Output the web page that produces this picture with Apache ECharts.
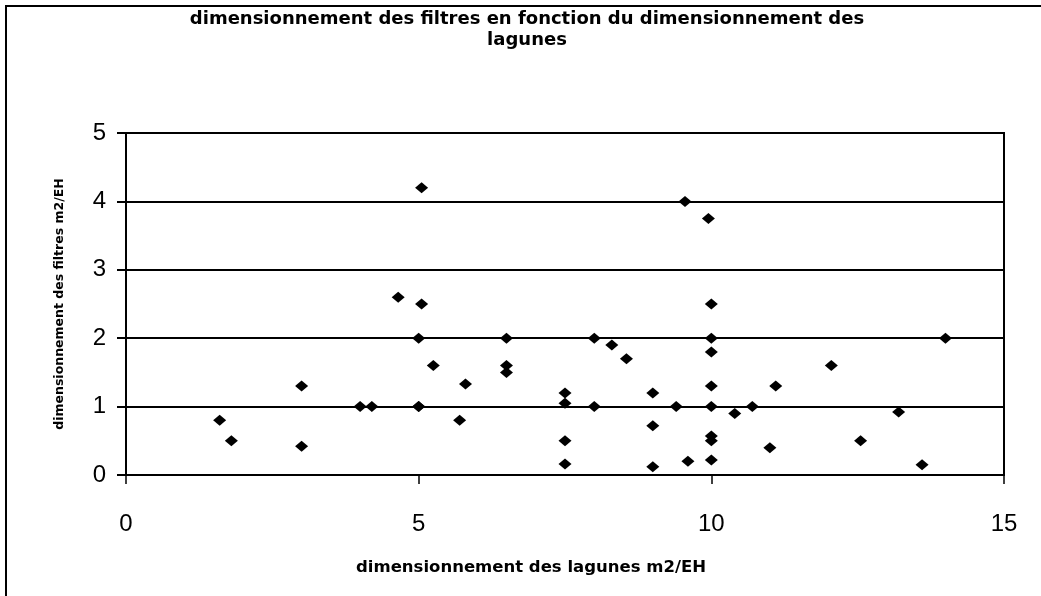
<!DOCTYPE html>
<html><head><meta charset="utf-8">
<script src="https://cdn.jsdelivr.net/npm/echarts@6/dist/echarts.min.js"></script>
<style>html,body{margin:0;padding:0;background:#fff}#frame{position:absolute;left:5px;top:5px;width:1040px;height:600px;border-left:2px solid #000;border-top:2px solid #000;box-sizing:border-box}#c{width:1041px;height:596px}</style>
</head><body>
<div id="c"></div><div id="frame"></div>
<script>
const titleText = 'dimensionnement des filtres en fonction du dimensionnement des\nlagunes';
const xName = 'dimensionnement des lagunes m2/EH';
const yName = 'dimensionnement des filtres m2/EH';
const xTicks = [0, 5, 10, 15];
const yTicks = [0, 1, 2, 3, 4, 5];
const lagunes = [1.6, 1.8, 3.0, 3.0, 4.0, 4.2, 5.0, 5.0, 4.65, 5.05, 5.05, 9.55, 9.95,
  6.5, 8.0, 8.3, 8.55, 10.0, 10.0, 10.0, 5.25, 6.5, 6.5, 5.8, 7.5, 7.5, 5.0, 8.0, 9.4, 10.0,
  9.0, 5.7, 9.0, 7.5, 7.5, 9.0, 9.6, 10.0, 10.0, 10.0, 10.0, 14.0, 12.05, 11.1, 10.7, 10.4,
  13.2, 12.55, 11.0, 13.6];
const filtres = [0.8, 0.5, 1.3, 0.42, 1.0, 1.0, 1.0, 2.0, 2.6, 2.5, 4.2, 4.0, 3.75,
  2.0, 2.0, 1.9, 1.7, 2.0, 1.8, 2.5, 1.6, 1.6, 1.5, 1.33, 1.2, 1.05, 1.0, 1.0, 1.0, 1.0,
  1.2, 0.8, 0.72, 0.5, 0.16, 0.12, 0.2, 0.22, 0.57, 0.5, 1.3, 2.0, 1.6, 1.3, 1.0, 0.9,
  0.92, 0.5, 0.4, 0.15];
const points = lagunes.map((x, i) => [x, filtres[i]]);
const chart = echarts.init(document.getElementById('c'));
const tickFont = 'Liberation Sans, Arial, sans-serif';
const boldFont = 'DejaVu Sans, sans-serif';
chart.setOption({
  animation: false,
  backgroundColor: '#fff',
  title: {text: titleText, left: 522, top: 4, textAlign: 'center',
    textStyle: {fontFamily: boldFont, fontWeight: 'bold', fontSize: 18, color: '#000', lineHeight: 21}},
  grid: {left: 126, right: 37, top: 133, bottom: 121, show: true, borderColor: '#000', borderWidth: 2},
  xAxis: {type: 'value', min: 0, max: 15, interval: 5,
    name: xName, nameLocation: 'middle', nameGap: 84,
    nameTextStyle: {fontFamily: boldFont, fontWeight: 'bold', fontSize: 16.5, color: '#000', padding: [0, 68, 0, 0]},
    axisLine: {lineStyle: {color: '#000', width: 2}},
    axisTick: {show: true, length: 9, lineStyle: {color: '#000', width: 1.5}},
    axisLabel: {fontFamily: tickFont, fontSize: 24, color: '#000', margin: 37,
      formatter: v => xTicks.includes(v) ? String(v) : ''},
    splitLine: {show: false}},
  yAxis: {type: 'value', min: 0, max: 5, interval: 1,
    name: yName, nameLocation: 'middle', nameGap: 60, nameRotate: 90,
    nameTextStyle: {fontFamily: boldFont, fontWeight: 'bold', fontSize: 12.5, color: '#000'},
    axisLine: {lineStyle: {color: '#000', width: 2}},
    axisTick: {show: true, length: 9, lineStyle: {color: '#000', width: 2}},
    axisLabel: {fontFamily: tickFont, fontSize: 24, color: '#000', margin: 20,
      formatter: v => yTicks.includes(v) ? String(v) : ''},
    splitLine: {show: true, lineStyle: {color: '#000', width: 2}}},
  series: [{type: 'scatter', data: points, symbol: 'diamond', symbolSize: [13, 11],
    itemStyle: {color: '#000', opacity: 1}}]
});
</script>
</body></html>
